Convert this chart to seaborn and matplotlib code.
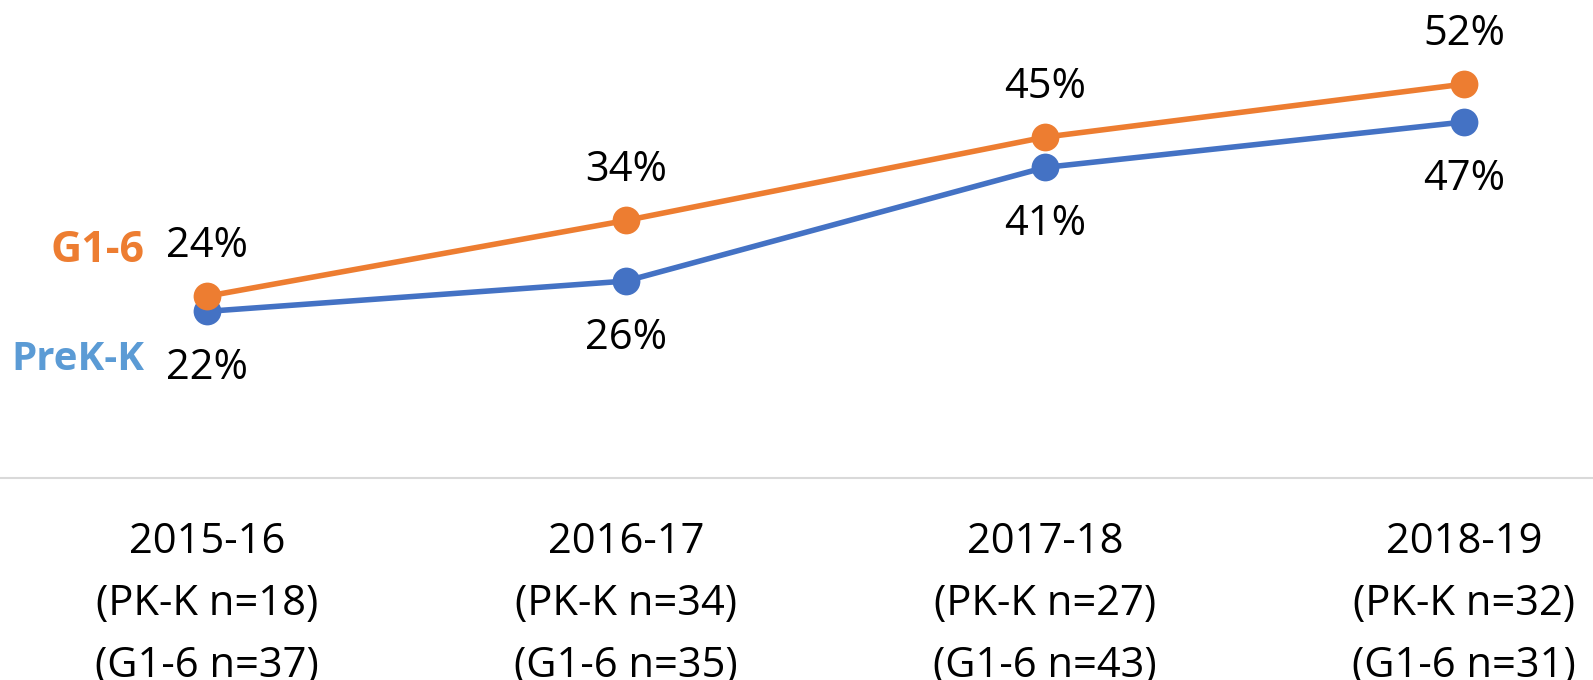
import matplotlib
matplotlib.use("Agg")
import matplotlib.pyplot as plt
import seaborn as sns
import pandas as pd

# Data
years = ['2015-16', '2016-17', '2017-18', '2018-19']
pk_n = [18, 34, 27, 32]
g16_n = [37, 35, 43, 31]
prek_k = [22, 26, 41, 47]
g1_6 = [24, 34, 45, 52]

ORANGE = '#ED7D31'
BLUE = '#4472C4'
LIGHT_BLUE = '#5B9BD5'

sns.set_theme(style='white')
plt.rcParams['font.family'] = ['Open Sans', 'DejaVu Sans']

df = pd.DataFrame({
    'x': list(range(len(years))) * 2,
    'pct': prek_k + g1_6,
    'group': ['PreK-K'] * len(years) + ['G1-6'] * len(years),
})

fig = plt.figure(figsize=(15.93, 6.8), dpi=100)
ax = fig.add_axes([0, 0.297, 1, 0.703])

sns.lineplot(data=df, x='x', y='pct', hue='group',
             palette={'PreK-K': BLUE, 'G1-6': ORANGE},
             hue_order=['PreK-K', 'G1-6'],
             marker='o', markersize=20, markeredgewidth=0,
             linewidth=4, legend=False, ax=ax)

# data labels
for i, v in enumerate(g1_6):
    ax.annotate(f'{v}%', (i, v), xytext=(0, 36), textcoords='offset points',
                ha='center', va='center', fontsize=30, color='black')
for i, v in enumerate(prek_k):
    ax.annotate(f'{v}%', (i, v), xytext=(0, -41), textcoords='offset points',
                ha='center', va='center', fontsize=30, color='black')

# series names at the left
ax.annotate('G1-6', (0, g1_6[0]), xytext=(-45, 33), textcoords='offset points',
            ha='right', va='center', fontsize=31, fontweight='bold', color=ORANGE)
ax.annotate('PreK-K', (0, prek_k[0]), xytext=(-45, -35), textcoords='offset points',
            ha='right', va='center', fontsize=29, fontweight='bold', color=LIGHT_BLUE)

ax.set_xlim(-0.494, 3.308)
ax.set_ylim(0, 63.1)
ax.set_xticks(range(len(years)))
ax.set_xticklabels([f'{y}\n(PK-K n={a})\n(G1-6 n={b})'
                    for y, a, b in zip(years, pk_n, g16_n)],
                   fontsize=30, linespacing=1.62, color='black')
ax.tick_params(axis='x', length=0, pad=31)
ax.set_yticks([])
ax.set_xlabel('')
ax.set_ylabel('')
for s in ['top', 'left', 'right']:
    ax.spines[s].set_visible(False)
ax.spines['bottom'].set_color('#D9D9D9')
ax.spines['bottom'].set_linewidth(1.5)

fig.savefig('out.png', dpi=100)
